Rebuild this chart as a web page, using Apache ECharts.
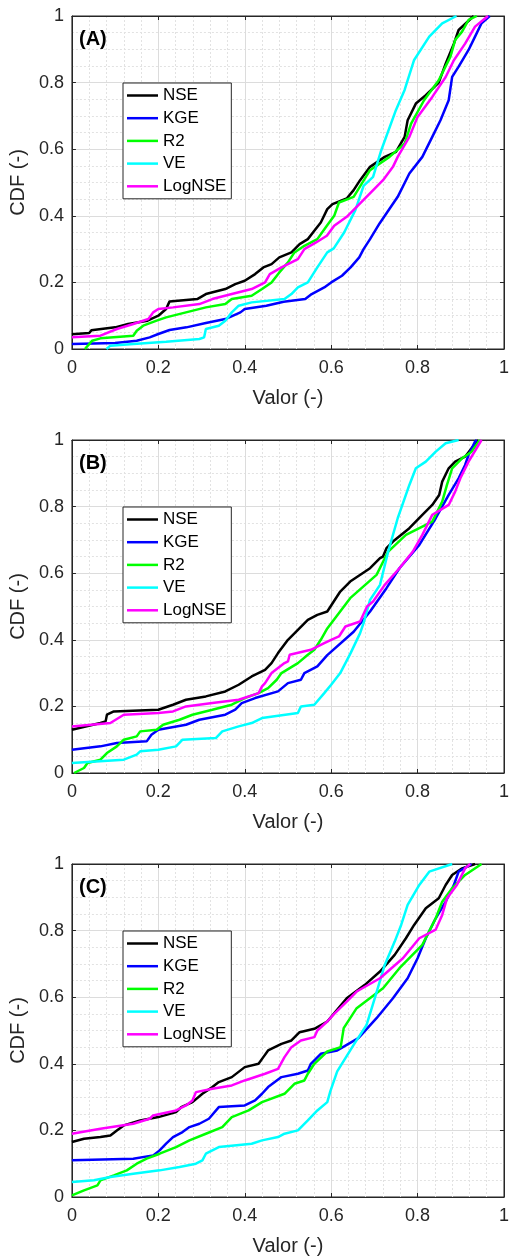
<!DOCTYPE html>
<html>
<head>
<meta charset="utf-8">
<script src="https://cdn.jsdelivr.net/npm/echarts@6/dist/echarts.min.js"></script>
<style>
html,body{margin:0;padding:0;background:#fff;}
#chart{width:512px;height:1259px;}
</style>
</head>
<body>
<div id="chart"></div>
<script>
// ---------------- DATA ----------------
const seriesNames = ['NSE', 'KGE', 'R2', 'VE', 'LogNSE'];
const panelLabels = ['(A)', '(B)', '(C)'];
const xAxisName = 'Valor (-)';
const yAxisName = 'CDF (-)';
const tickInterval = 0.2;

// Panel A
const nseA = [[0,0.044],[0.04,0.048],[0.045,0.056],[0.1,0.065],[0.13,0.075],[0.175,0.085],[0.2,0.1],[0.218,0.12],[0.226,0.143],[0.29,0.15],[0.31,0.165],[0.355,0.18],[0.378,0.195],[0.4,0.205],[0.424,0.225],[0.443,0.245],[0.462,0.255],[0.48,0.275],[0.508,0.29],[0.527,0.315],[0.546,0.33],[0.561,0.355],[0.576,0.38],[0.591,0.42],[0.603,0.435],[0.636,0.452],[0.652,0.477],[0.667,0.507],[0.69,0.547],[0.724,0.577],[0.75,0.592],[0.77,0.637],[0.777,0.687],[0.796,0.737],[0.819,0.762],[0.849,0.8],[0.865,0.857],[0.884,0.917],[0.895,0.958],[0.93,1]];
const kgeA = [[0,0.015],[0.1,0.018],[0.15,0.025],[0.18,0.035],[0.2,0.045],[0.226,0.057],[0.265,0.065],[0.31,0.078],[0.355,0.09],[0.39,0.11],[0.4,0.12],[0.45,0.13],[0.49,0.142],[0.54,0.15],[0.555,0.165],[0.584,0.185],[0.6,0.2],[0.625,0.22],[0.645,0.245],[0.665,0.275],[0.675,0.3],[0.69,0.33],[0.712,0.377],[0.754,0.457],[0.781,0.527],[0.811,0.577],[0.834,0.637],[0.853,0.687],[0.872,0.747],[0.88,0.817],[0.895,0.848],[0.918,0.898],[0.933,0.938],[0.948,0.978],[0.967,1]];
const r2A = [[0.03,0],[0.047,0.025],[0.066,0.032],[0.142,0.04],[0.15,0.055],[0.165,0.07],[0.196,0.085],[0.218,0.095],[0.264,0.11],[0.31,0.125],[0.355,0.135],[0.37,0.15],[0.416,0.16],[0.44,0.18],[0.462,0.2],[0.48,0.23],[0.5,0.26],[0.515,0.29],[0.538,0.31],[0.568,0.33],[0.59,0.37],[0.607,0.4],[0.618,0.44],[0.652,0.457],[0.69,0.537],[0.735,0.577],[0.77,0.617],[0.785,0.677],[0.815,0.747],[0.849,0.807],[0.876,0.878],[0.887,0.928],[0.903,0.953],[0.918,0.988],[0.937,1]];
const veA = [[0.08,0],[0.089,0.01],[0.142,0.015],[0.218,0.022],[0.295,0.03],[0.306,0.035],[0.31,0.06],[0.34,0.07],[0.355,0.085],[0.37,0.11],[0.386,0.13],[0.416,0.14],[0.492,0.15],[0.508,0.165],[0.523,0.185],[0.546,0.2],[0.568,0.245],[0.591,0.29],[0.606,0.302],[0.63,0.35],[0.656,0.417],[0.675,0.49],[0.697,0.517],[0.716,0.597],[0.75,0.718],[0.77,0.778],[0.792,0.868],[0.827,0.938],[0.857,0.978],[0.89,1]];
const logA = [[0,0.035],[0.066,0.04],[0.104,0.06],[0.142,0.075],[0.177,0.09],[0.188,0.11],[0.2,0.12],[0.234,0.125],[0.295,0.135],[0.325,0.15],[0.37,0.165],[0.416,0.18],[0.447,0.2],[0.458,0.225],[0.485,0.245],[0.523,0.27],[0.538,0.3],[0.565,0.32],[0.59,0.34],[0.607,0.37],[0.636,0.397],[0.667,0.437],[0.72,0.507],[0.743,0.547],[0.754,0.577],[0.781,0.637],[0.8,0.697],[0.834,0.757],[0.865,0.817],[0.884,0.867],[0.91,0.917],[0.933,0.968],[0.963,1]];

// Panel B
const nseB = [[0,0.13],[0.066,0.15],[0.078,0.155],[0.081,0.175],[0.097,0.185],[0.2,0.19],[0.234,0.205],[0.264,0.22],[0.31,0.23],[0.355,0.245],[0.386,0.265],[0.416,0.29],[0.447,0.31],[0.462,0.33],[0.477,0.36],[0.5,0.4],[0.523,0.43],[0.546,0.46],[0.568,0.475],[0.591,0.485],[0.621,0.545],[0.644,0.575],[0.69,0.615],[0.713,0.645],[0.72,0.65],[0.728,0.675],[0.743,0.695],[0.781,0.735],[0.811,0.775],[0.834,0.805],[0.85,0.835],[0.857,0.875],[0.872,0.915],[0.887,0.935],[0.91,0.95],[0.925,0.975],[0.94,1]];
const kgeB = [[0,0.07],[0.066,0.08],[0.104,0.09],[0.173,0.095],[0.184,0.115],[0.2,0.13],[0.264,0.145],[0.295,0.16],[0.355,0.175],[0.378,0.19],[0.393,0.21],[0.424,0.225],[0.477,0.245],[0.5,0.27],[0.53,0.28],[0.538,0.3],[0.568,0.32],[0.591,0.354],[0.652,0.424],[0.69,0.485],[0.728,0.555],[0.758,0.615],[0.804,0.685],[0.842,0.765],[0.872,0.835],[0.895,0.885],[0.91,0.925],[0.918,0.955],[0.933,0.995],[0.937,1]];
const r2B = [[0.005,0],[0.028,0.015],[0.036,0.03],[0.066,0.04],[0.081,0.06],[0.104,0.08],[0.12,0.1],[0.15,0.11],[0.158,0.125],[0.196,0.13],[0.211,0.145],[0.249,0.16],[0.279,0.175],[0.325,0.19],[0.37,0.205],[0.4,0.225],[0.432,0.24],[0.454,0.255],[0.474,0.28],[0.485,0.3],[0.523,0.33],[0.546,0.355],[0.561,0.37],[0.576,0.4],[0.591,0.434],[0.644,0.525],[0.705,0.595],[0.732,0.665],[0.773,0.715],[0.834,0.755],[0.857,0.815],[0.868,0.865],[0.88,0.915],[0.903,0.945],[0.925,0.965],[0.944,1]];
const veB = [[0,0.03],[0.12,0.04],[0.15,0.055],[0.158,0.065],[0.2,0.07],[0.241,0.08],[0.256,0.1],[0.333,0.105],[0.348,0.125],[0.386,0.14],[0.416,0.15],[0.44,0.165],[0.523,0.18],[0.53,0.2],[0.561,0.205],[0.584,0.24],[0.6,0.265],[0.621,0.3],[0.645,0.36],[0.667,0.42],[0.675,0.45],[0.69,0.52],[0.713,0.565],[0.732,0.665],[0.754,0.765],[0.781,0.865],[0.796,0.915],[0.819,0.935],[0.842,0.965],[0.865,0.99],[0.895,1]];
const logB = [[0,0.14],[0.089,0.15],[0.12,0.175],[0.2,0.18],[0.234,0.185],[0.264,0.2],[0.325,0.21],[0.386,0.22],[0.432,0.24],[0.44,0.26],[0.447,0.27],[0.462,0.3],[0.492,0.33],[0.5,0.335],[0.504,0.355],[0.553,0.37],[0.584,0.39],[0.6,0.4],[0.618,0.41],[0.633,0.44],[0.667,0.455],[0.683,0.5],[0.697,0.515],[0.724,0.565],[0.758,0.615],[0.789,0.665],[0.811,0.715],[0.834,0.775],[0.872,0.805],[0.887,0.845],[0.899,0.885],[0.918,0.935],[0.948,1]];

// Panel C
const nseC = [[0,0.165],[0.028,0.175],[0.066,0.18],[0.089,0.185],[0.104,0.2],[0.12,0.215],[0.158,0.23],[0.2,0.24],[0.241,0.255],[0.253,0.27],[0.279,0.285],[0.302,0.31],[0.325,0.33],[0.34,0.345],[0.37,0.36],[0.4,0.39],[0.432,0.4],[0.443,0.42],[0.454,0.44],[0.485,0.46],[0.508,0.47],[0.527,0.495],[0.561,0.505],[0.591,0.527],[0.636,0.597],[0.678,0.637],[0.713,0.677],[0.747,0.727],[0.773,0.777],[0.792,0.817],[0.819,0.867],[0.849,0.897],[0.865,0.937],[0.88,0.967],[0.903,0.987],[0.933,1]];
const kgeC = [[0,0.11],[0.142,0.115],[0.188,0.125],[0.203,0.14],[0.218,0.16],[0.234,0.18],[0.256,0.195],[0.272,0.21],[0.295,0.22],[0.317,0.235],[0.34,0.27],[0.4,0.275],[0.424,0.29],[0.44,0.31],[0.454,0.33],[0.485,0.36],[0.523,0.37],[0.546,0.38],[0.553,0.4],[0.576,0.43],[0.614,0.44],[0.636,0.457],[0.663,0.477],[0.705,0.537],[0.743,0.597],[0.777,0.657],[0.8,0.717],[0.819,0.777],[0.842,0.837],[0.865,0.887],[0.884,0.937],[0.895,0.977],[0.925,1]];
const r2C = [[0,0.005],[0.028,0.02],[0.059,0.035],[0.066,0.05],[0.097,0.065],[0.127,0.08],[0.15,0.1],[0.173,0.115],[0.203,0.13],[0.241,0.15],[0.272,0.17],[0.31,0.19],[0.348,0.21],[0.37,0.24],[0.409,0.26],[0.44,0.285],[0.492,0.31],[0.515,0.34],[0.538,0.35],[0.546,0.37],[0.561,0.4],[0.591,0.437],[0.622,0.45],[0.629,0.507],[0.659,0.567],[0.72,0.627],[0.758,0.687],[0.811,0.757],[0.842,0.837],[0.857,0.887],[0.88,0.927],[0.91,0.967],[0.948,1]];
const veC = [[0,0.045],[0.051,0.05],[0.089,0.06],[0.142,0.07],[0.203,0.08],[0.249,0.09],[0.287,0.1],[0.302,0.11],[0.31,0.13],[0.34,0.15],[0.416,0.16],[0.44,0.17],[0.477,0.18],[0.492,0.19],[0.523,0.2],[0.546,0.23],[0.568,0.26],[0.591,0.285],[0.598,0.317],[0.614,0.377],[0.652,0.457],[0.682,0.517],[0.701,0.597],[0.724,0.697],[0.747,0.767],[0.762,0.817],[0.777,0.877],[0.804,0.937],[0.827,0.977],[0.88,1]];
const logC = [[0,0.19],[0.066,0.205],[0.142,0.22],[0.18,0.235],[0.188,0.245],[0.241,0.26],[0.264,0.275],[0.279,0.29],[0.287,0.315],[0.325,0.325],[0.37,0.335],[0.4,0.35],[0.447,0.37],[0.477,0.385],[0.492,0.42],[0.508,0.45],[0.53,0.47],[0.561,0.48],[0.568,0.5],[0.591,0.527],[0.607,0.55],[0.636,0.587],[0.659,0.617],[0.713,0.657],[0.766,0.717],[0.804,0.777],[0.842,0.803],[0.857,0.847],[0.868,0.897],[0.891,0.937],[0.91,0.987],[0.922,1]];

const panelData = [
  [nseA, kgeA, r2A, veA, logA],
  [nseB, kgeB, r2B, veB, logB],
  [nseC, kgeC, r2C, veC, logC]
];
const seriesColors = ['#000000', '#0000ff', '#00ff00', '#00ffff', '#ff00ff'];

// ---------------- LAYOUT ----------------
const panelTops = [16, 440, 864];
const plotLeft = 71, plotWidth = 438, plotHeight = 333;
const FONT = '"Liberation Sans", Arial, Helvetica, sans-serif';
const TXT = '#262626';

const option = {
  backgroundColor: '#ffffff',
  animation: false,
  grid: [], xAxis: [], yAxis: [], series: [], legend: [], title: []
};

panelTops.forEach((top, p) => {
  option.grid.push({
    left: plotLeft, top: top, width: plotWidth, height: plotHeight,
    show: true, borderColor: TXT, borderWidth: 1, backgroundColor: '#ffffff'
  });
  option.xAxis.push({
    gridIndex: p, type: 'value', min: 0, max: 1, interval: tickInterval,
    position: 'bottom',
    name: xAxisName, nameLocation: 'middle', nameGap: 39,
    nameTextStyle: { fontFamily: FONT, fontSize: 20, color: TXT },
    axisLine: { show: true, onZero: false, lineStyle: { color: TXT, width: 1 } },
    axisTick: { show: true, inside: true, length: 4, lineStyle: { color: TXT } },
    axisLabel: { fontFamily: FONT, fontSize: 18, color: TXT, margin: 10 },
    splitLine: { show: true, lineStyle: { color: '#dcdcdc', width: 1 } },
    minorTick: { show: false, splitNumber: 5 },
    minorSplitLine: { show: true, lineStyle: { color: '#e2e2e2', width: 1, type: [2, 2] } }
  });
  option.yAxis.push({
    gridIndex: p, type: 'value', min: 0, max: 1, interval: tickInterval,
    position: 'left',
    name: yAxisName, nameLocation: 'middle', nameGap: 40, nameRotate: 90,
    nameTextStyle: { fontFamily: FONT, fontSize: 20, color: TXT },
    axisLine: { show: true, onZero: false, lineStyle: { color: TXT, width: 1 } },
    axisTick: { show: true, inside: true, length: 4, lineStyle: { color: TXT } },
    axisLabel: { fontFamily: FONT, fontSize: 18, color: TXT, margin: 8 },
    splitLine: { show: true, lineStyle: { color: '#dcdcdc', width: 1 } },
    minorTick: { show: false, splitNumber: 4 },
    minorSplitLine: { show: true, lineStyle: { color: '#e2e2e2', width: 1, type: [2, 2] } }
  });
  option.title.push({
    text: panelLabels[p], left: 79, top: top + 13, padding: 0,
    textStyle: { fontFamily: FONT, fontSize: 20, fontWeight: 'bold', color: '#000' }
  });
  option.legend.push({
    data: seriesNames.slice(), orient: 'vertical', left: 123, top: top + 67,
    backgroundColor: '#ffffff', borderColor: TXT, borderWidth: 1, borderRadius: 0,
    padding: [4, 5, 4, 4], itemGap: 5.7, itemWidth: 31, itemHeight: 2.5, itemTextGap: 3,
    icon: 'rect', selectedMode: false,
    textStyle: { fontFamily: FONT, fontSize: 17, color: '#000', padding: [0, 0, 0, 0] }
  });
  seriesNames.forEach((name, s) => {
    option.series.push({
      type: 'line', name: name, xAxisIndex: p, yAxisIndex: p,
      data: panelData[p][s], showSymbol: false, symbol: 'none',
      lineStyle: { color: seriesColors[s], width: 2.5 }, itemStyle: { color: seriesColors[s] },
      clip: true, z: 3
    });
  });
});

// top and right box ticks
panelTops.forEach((top, p) => {
  option.xAxis.push({
    gridIndex: p, type: 'value', min: 0, max: 1, interval: tickInterval, position: 'top',
    axisLine: { show: true, onZero: false, lineStyle: { color: TXT, width: 1 } },
    axisTick: { show: true, inside: true, length: 4, lineStyle: { color: TXT } },
    axisLabel: { show: false }, splitLine: { show: false }
  });
  option.yAxis.push({
    gridIndex: p, type: 'value', min: 0, max: 1, interval: tickInterval, position: 'right',
    axisLine: { show: true, onZero: false, lineStyle: { color: TXT, width: 1 } },
    axisTick: { show: true, inside: true, length: 4, lineStyle: { color: TXT } },
    axisLabel: { show: false }, splitLine: { show: false }
  });
});

const chart = echarts.init(document.getElementById('chart'), null, { renderer: 'canvas' });
chart.setOption(option);
</script>
</body>
</html>
